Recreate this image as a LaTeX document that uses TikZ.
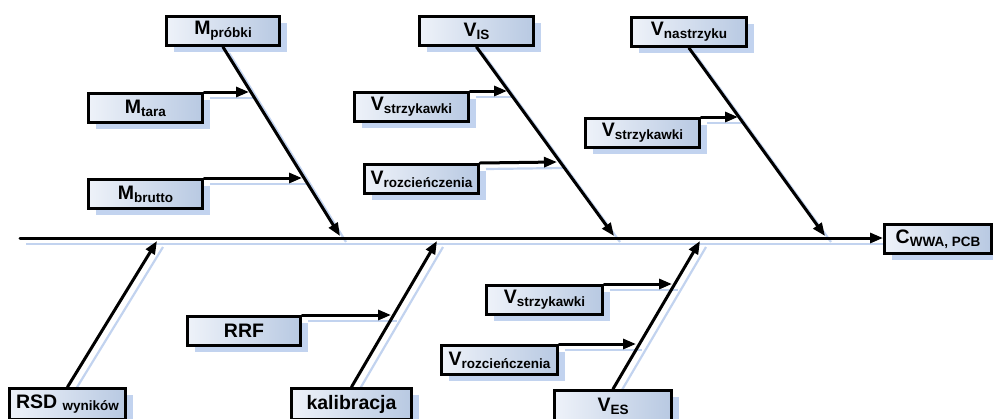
\documentclass[tikz,border=0pt]{standalone}
\usepackage{fontspec}
\setmainfont{Liberation Sans}
\usetikzlibrary{arrows.meta,shadows}
\definecolor{boxL}{HTML}{EEF2F9}
\definecolor{boxR}{HTML}{B8C9E2}
\definecolor{shadeblue}{HTML}{C2D3EF}
\pgfdeclarelayer{bg}
\pgfsetlayers{bg,main}
% main symbol followed by a lowered, smaller index
\newcommand\lab[2]{#1\raisebox{-2.8pt}{\fontsize{13.5}{14}\selectfont #2}}

\begin{document}
\begin{tikzpicture}[x=1pt,y=-1pt,
  box/.style={draw=black, line width=3pt, left color=boxL, right color=boxR,
    anchor=north west, minimum height=29pt, inner sep=0pt,
    font=\fontsize{19.5}{21}\selectfont\bfseries,
    drop shadow={shadow xshift=7pt, shadow yshift=-6pt, fill=shadeblue, opacity=1}},
  conn/.style={line width=3pt, line cap=round, -{Triangle[length=13pt,width=10pt]}},
  lshadow/.style={line width=2.2pt, draw=shadeblue}]
\path[use as bounding box, clip] (0,0) rectangle (993,418);

% boxes
\node[box, minimum width=113pt] (mprobki) at (165,15) {\lab{M}{próbki}};
\node[box, minimum width=114pt] (mtara)   at (87,92)  {\lab{M}{tara}};
\node[box, minimum width=114pt] (mbrutto) at (87,178) {\lab{M}{brutto}};
\node[box, minimum width=114pt] (vis)     at (418,15) {\lab{V}{IS}};
\node[box, minimum width=114pt] (vstrA)   at (353,91) {\lab{V}{strzykawki}};
\node[box, minimum width=114pt] (vrozA)   at (363,163) {\lab{V}{rozcieńczenia}};
\node[box, minimum width=115pt] (vnast)   at (630,16) {\lab{V}{nastrzyku}};
\node[box, minimum width=114pt] (vstrB)   at (584,117) {\lab{V}{strzykawki}};
\node[box, minimum width=107pt] (cwwa)    at (883,223) {\lab{C}{WWA, PCB}};
\node[box, minimum width=113pt] (rrf)     at (186,315) {RRF};
\node[box, minimum width=116pt] (vstrC)   at (485,284) {\lab{V}{strzykawki}};
\node[box, minimum width=116pt] (vrozB)   at (440,344) {\lab{V}{rozcieńczenia}};
\node[box, minimum width=117pt, minimum height=31pt] (ves)  at (553,389) {\lab{V}{ES}};
\node[box, minimum width=116pt, minimum height=31pt] (rsd)  at (8,387)   {\lab{RSD\ }{wyników}};
\node[box, minimum width=120pt, minimum height=31pt] (kal)  at (290,387) {kalibracja};

% spine and tips of the branches
\coordinate (sp0) at (20,238);
\coordinate (s1) at (340,236);
\coordinate (s2) at (614,236);
\coordinate (s3) at (825,236);
\coordinate (b1) at (157,241);
\coordinate (b2) at (437,241);
\coordinate (b3) at (700,241);
% tips of the side arrows
\coordinate (t1) at (249,92);
\coordinate (t2) at (302,178);
\coordinate (t3) at (507,91);
\coordinate (t4) at (557,162);
\coordinate (t5) at (738,117);
\coordinate (t6) at (391,315);
\coordinate (t7) at (672,284);
\coordinate (t8) at (636,344);

% soft shadows of the connectors
\begin{pgfonlayer}{bg}
\begin{scope}[transform canvas={shift={(6pt,-6pt)}}]
  \draw[lshadow] (sp0) -- (sp0 -| cwwa.west);
  \draw[lshadow] (mprobki.south) -- (s1);
  \draw[lshadow] (vis.south) -- (s2);
  \draw[lshadow] (vnast.south) -- (s3);
  \draw[lshadow] (rsd.north) -- (b1);
  \draw[lshadow] (kal.north) -- (b2);
  \draw[lshadow] (ves.north) -- (b3);
  \draw[lshadow] (mtara.north east) -- (t1);
  \draw[lshadow] (mbrutto.north east) -- (t2);
  \draw[lshadow] (vstrA.north east) -- (t3);
  \draw[lshadow] (vrozA.north east) -- (t4);
  \draw[lshadow] (vstrB.north east) -- (t5);
  \draw[lshadow] (rrf.north east) -- (t6);
  \draw[lshadow] (vstrC.north east) -- (t7);
  \draw[lshadow] (vrozB.north east) -- (t8);
\end{scope}
\end{pgfonlayer}

% connectors
\draw[conn] (sp0) -- (sp0 -| cwwa.west);
\draw[conn] (mprobki.south) -- (s1);
\draw[conn] (vis.south) -- (s2);
\draw[conn] (vnast.south) -- (s3);
\draw[conn] (rsd.north) -- (b1);
\draw[conn] (kal.north) -- (b2);
\draw[conn] (ves.north) -- (b3);
\draw[conn] (mtara.north east) -- (t1);
\draw[conn] (mbrutto.north east) -- (t2);
\draw[conn] (vstrA.north east) -- (t3);
\draw[conn] (vrozA.north east) -- (t4);
\draw[conn] (vstrB.north east) -- (t5);
\draw[conn] (rrf.north east) -- (t6);
\draw[conn] (vstrC.north east) -- (t7);
\draw[conn] (vrozB.north east) -- (t8);
\end{tikzpicture}
\end{document}
